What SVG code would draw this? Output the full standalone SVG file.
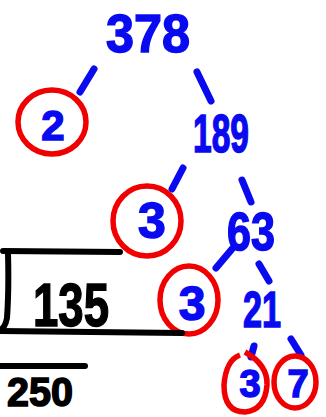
<svg xmlns="http://www.w3.org/2000/svg" width="326" height="417" viewBox="0 0 326 417">
<style>
.b{fill:#0a0af0;stroke:#0a0af0;stroke-width:1.5;font-family:"Liberation Sans",Arial,sans-serif;font-weight:bold;text-anchor:middle}
.k{fill:#000;stroke:#000;stroke-width:1.5;font-family:"Liberation Sans",Arial,sans-serif;font-weight:bold;text-anchor:middle}
.c{fill:none;stroke:#f00000;stroke-width:5.5}
.l{fill:none;stroke:#0a0af0;stroke-width:7;stroke-linecap:round}
.p{fill:none;stroke:#000;stroke-width:6;stroke-linecap:round;stroke-linejoin:round}
</style>
<rect width="326" height="417" fill="#fff"/>
<g id="connectors">
<line class="l" x1="94" y1="69" x2="80" y2="92"/>
<line class="l" x1="197" y1="72" x2="211" y2="101"/>
<line class="l" x1="183" y1="168" x2="172" y2="189"/>
<line class="l" x1="242" y1="180" x2="251" y2="202"/>
<line class="l" x1="232" y1="249" x2="216" y2="268"/>
<line class="l" x1="259" y1="264" x2="269" y2="281"/>
<line class="l" x1="254" y1="346" x2="251" y2="357"/>
<line class="l" x1="291" y1="339" x2="301" y2="355"/>
</g>
<g id="n378"><text class="b" x="148" y="52" font-size="54" textLength="84" lengthAdjust="spacingAndGlyphs">378</text></g>
<g id="n2"><ellipse class="c" cx="52" cy="122" rx="34" ry="32"/><text class="b" x="53" y="140" font-size="42">2</text></g>
<g id="n189"><text class="b" x="221" y="152" font-size="53" textLength="56" lengthAdjust="spacingAndGlyphs">189</text></g>
<g id="n3a"><ellipse class="c" cx="147" cy="221" rx="34" ry="35"/><text class="b" x="152" y="238" font-size="50">3</text></g>
<g id="n63"><text class="b" x="251" y="250" font-size="54" textLength="48" lengthAdjust="spacingAndGlyphs">63</text></g>
<g id="n3b"><ellipse class="c" cx="189" cy="300" rx="29" ry="34"/><text class="b" x="192" y="320" font-size="48">3</text></g>
<g id="n21"><text class="b" x="262" y="327" font-size="50" textLength="38" lengthAdjust="spacingAndGlyphs">21</text></g>
<g id="n3c"><text class="b" x="250" y="397" font-size="38">3</text><path class="c" d="M245 352 Q268 365 267 385 Q265 410 245 412 Q224 412 224 385 Q226 360 240 355"/></g>
<g id="n7"><text class="b" x="298" y="397" font-size="38">7</text><ellipse class="c" cx="295" cy="382" rx="21" ry="26"/></g>
<g id="division">
<path class="p" d="M3 251 L120 252"/>
<path class="p" d="M8 253 Q9 290 7 318 Q5 328 0 330"/>
<path class="p" d="M0 331 L182 333"/>
<path class="p" d="M0 366 L85 366"/>
<text class="k" x="71" y="326" font-size="62" textLength="76" lengthAdjust="spacingAndGlyphs">135</text>
<text class="k" x="40" y="406" font-size="40" textLength="66" lengthAdjust="spacingAndGlyphs">250</text>
</g>
</svg>
